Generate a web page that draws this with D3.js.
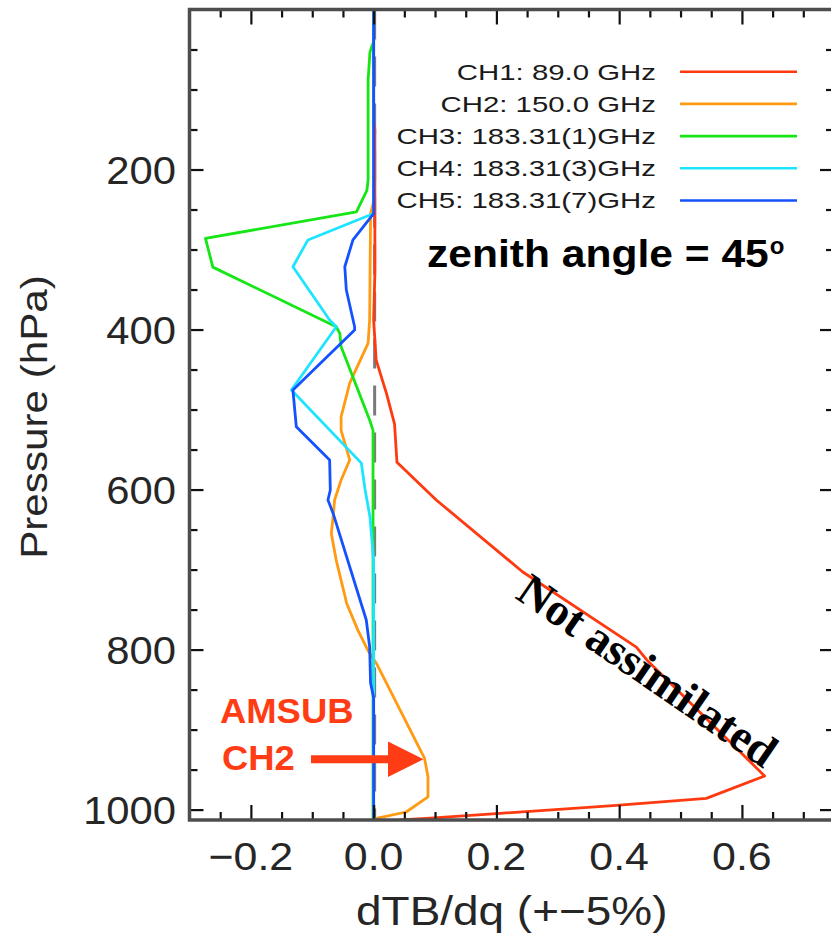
<!DOCTYPE html>
<html>
<head>
<meta charset="utf-8">
<script src="https://cdn.jsdelivr.net/npm/d3@7"></script>
<style>
  body { margin: 0; background: #fff; }
  svg { display: block; }
</style>
</head>
<body>
<svg id="chart" width="831" height="937"></svg>
<script>
// Channel labels for the legend
const channelNames = ["CH1: 89.0 GHz", "CH2: 150.0 GHz", "CH3: 183.31(1)GHz", "CH4: 183.31(3)GHz", "CH5: 183.31(7)GHz"];

// dTB/dq profiles (pressure in hPa, sensitivity values)
const ch1Pressure = [0, 140, 150, 330, 388, 438, 480, 518, 566, 613, 703, 797, 813, 958, 986, 995, 1005, 1011, 1013];
const ch1Values   = [0, 0, 0.002, 0.002, 0, 0.004, 0.021, 0.034, 0.038, 0.102, 0.243, 0.428, 0.445, 0.637, 0.542, 0.39, 0.2, 0.086, 0.042];

const ch2Pressure = [0, 240, 255, 388, 417, 467, 509, 526, 563, 588, 613, 634, 655, 688, 742, 776, 801, 817, 936, 959, 984, 1003, 1011, 1013];
const ch2Values   = [0, 0, -0.005, -0.0065, -0.009, -0.039, -0.053, -0.053, -0.039, -0.053, -0.0636, -0.066, -0.069, -0.061, -0.044, -0.0256, -0.0093, 0.0044, 0.083, 0.0885, 0.0885, 0.053, 0.0044, 0];

const ch3Pressure = [0, 40, 53, 88, 213, 226, 253, 286, 322, 396.5, 405, 421.5, 513, 526, 1013];
const ch3Values   = [0, 0, -0.006, -0.009, -0.009, -0.011, -0.028, -0.274, -0.262, -0.061, -0.055, -0.053, -0.0065, -0.001, -0.001];

const ch4Pressure = [0, 255, 288, 321.5, 388, 396.5, 475.6, 567, 600, 634, 670, 690, 1013];
const ch4Values   = [0, 0, -0.107, -0.1315, -0.0717, -0.0608, -0.134, -0.02, -0.014, -0.006, -0.002, 0, 0];

const ch5Pressure = [0, 255, 288, 321.5, 350.6, 396.5, 400.6, 475.6, 521.5, 563, 600.6, 613, 629.8, 763, 796.5, 842, 860, 1013];
const ch5Values   = [0, 0, -0.0337, -0.047, -0.0445, -0.031, -0.031, -0.1315, -0.126, -0.0717, -0.0706, -0.0744, -0.066, -0.012, -0.0065, -0.005, 0, 0];

// Axis ticks
const xTickValues = [-0.2, 0.0, 0.2, 0.4, 0.6];
const yTickValues = [200, 400, 600, 800, 1000];

const channelPressures = [ch1Pressure, ch2Pressure, ch3Pressure, ch4Pressure, ch5Pressure];
const channelValues = [ch1Values, ch2Values, ch3Values, ch4Values, ch5Values];
const channelColors = ["#ff3a10", "#ff9a12", "#16e616", "#1ee4ff", "#1452ff"];

const svg = d3.select("#chart");
const plotLeft = 189.5, plotRight = 834, plotTop = 9.5, plotBottom = 820;

const x = d3.scaleLinear().domain([-0.3, 0.75]).range([plotLeft, plotRight]);
const y = d3.scaleLinear().domain([0, 1013]).range([plotTop, plotBottom]);

// Stretch a text element horizontally by a factor, keeping its anchor
function stretch(sel, k) {
  sel.each(function () {
    const w = this.getComputedTextLength();
    d3.select(this).attr("textLength", w * k).attr("lengthAdjust", "spacingAndGlyphs");
  });
  return sel;
}

svg.append("defs").append("clipPath").attr("id", "plotClip")
  .append("rect").attr("x", plotLeft).attr("y", plotTop)
  .attr("width", plotRight - plotLeft).attr("height", plotBottom - plotTop);

// Dashed zero reference line
svg.append("line")
  .attr("x1", x(0) + 1).attr("x2", x(0) + 1)
  .attr("y1", plotTop).attr("y2", plotBottom)
  .attr("stroke", "#7a7a7a").attr("stroke-width", 3)
  .attr("stroke-dasharray", "30,17");

// Profiles
const line = d3.line().x(d => x(d[1])).y(d => y(d[0]));
const curves = svg.append("g").attr("clip-path", "url(#plotClip)");
channelPressures.forEach((ps, i) => {
  const pts = ps.map((p, j) => [p, channelValues[i][j]]);
  curves.append("path")
    .datum(pts)
    .attr("d", line)
    .attr("fill", "none")
    .attr("stroke", channelColors[i])
    .attr("stroke-width", 2.8)
    .attr("stroke-linejoin", "round");
});

// Ticks on all four sides (pointing inward)
const xMinor = d3.range(-0.25, 0.75, 0.05).map(v => +v.toFixed(2))
  .filter(v => !xTickValues.some(t => Math.abs(t - v) < 1e-6));
const yMinor = d3.range(50, 1001, 50).filter(v => !yTickValues.includes(v));

function styleAxis(g) {
  g.select(".domain").remove();
  g.selectAll(".tick line").attr("stroke", "#111").attr("stroke-width", 2.2);
  g.selectAll(".tick text").remove();
}

const axes = svg.append("g");
[[d3.axisTop, plotBottom], [d3.axisBottom, plotTop]].forEach(([fn, pos]) => {
  axes.append("g").attr("transform", `translate(0,${pos})`)
    .call(fn(x).tickValues(xTickValues).tickSize(15).tickFormat("")).call(styleAxis);
  axes.append("g").attr("transform", `translate(0,${pos})`)
    .call(fn(x).tickValues(xMinor).tickSize(8).tickFormat("")).call(styleAxis);
});
[[d3.axisRight, plotLeft], [d3.axisLeft, plotRight]].forEach(([fn, pos]) => {
  axes.append("g").attr("transform", `translate(${pos},0)`)
    .call(fn(y).tickValues(yTickValues).tickSize(14).tickFormat("")).call(styleAxis);
  axes.append("g").attr("transform", `translate(${pos},0)`)
    .call(fn(y).tickValues(yMinor).tickSize(8).tickFormat("")).call(styleAxis);
});

// Frame
svg.append("rect")
  .attr("x", plotLeft).attr("y", plotTop)
  .attr("width", plotRight - plotLeft).attr("height", plotBottom - plotTop)
  .attr("fill", "none").attr("stroke", "#4d4d4d").attr("stroke-width", 3.5);

const fmt = d3.format(".1f");
const labelFont = "'Liberation Sans', Arial, Helvetica, sans-serif";
const labelColor = "#262626";

// X tick labels
svg.append("g").selectAll("text").data(xTickValues).join("text")
  .attr("x", d => x(d)).attr("y", 870)
  .attr("text-anchor", "middle")
  .attr("font-family", labelFont).attr("font-size", 39).attr("fill", labelColor)
  .text(d => fmt(d))
  .call(stretch, 1.1);

// Y tick labels
svg.append("g").selectAll("text").data(yTickValues).join("text")
  .attr("x", 176).attr("y", d => y(d)).attr("dy", "0.36em")
  .attr("text-anchor", "end")
  .attr("font-family", labelFont).attr("font-size", 39).attr("fill", labelColor)
  .text(d => d)
  .call(stretch, 1.07);

// Axis titles
svg.append("text")
  .attr("x", (plotLeft + plotRight) / 2).attr("y", 925)
  .attr("text-anchor", "middle")
  .attr("font-family", labelFont).attr("font-size", 41).attr("fill", labelColor)
  .text("dTB/dq (+\u22125%)")
  .call(stretch, 1.12);

svg.append("text")
  .attr("transform", "translate(47,417) rotate(-90)")
  .attr("text-anchor", "middle")
  .attr("font-family", labelFont).attr("font-size", 37).attr("fill", labelColor)
  .text("Pressure (hPa)")
  .call(stretch, 1.14);

// Legend
const legend = svg.append("g");
channelNames.forEach((name, i) => {
  const base = 79.5 + i * 32.2;
  const t = legend.append("text")
    .attr("y", base)
    .attr("font-family", labelFont).attr("font-size", 22).attr("fill", "#1a1a1a")
    .text(name);
  const w = t.node().getComputedTextLength() * 1.335;
  t.attr("x", 656 - w).attr("textLength", w).attr("lengthAdjust", "spacingAndGlyphs");
  legend.append("line")
    .attr("x1", 680).attr("x2", 797)
    .attr("y1", base - 7.8).attr("y2", base - 7.8)
    .attr("stroke", channelColors[i]).attr("stroke-width", 2.6);
});

// Zenith angle note
const zen = svg.append("text")
  .attr("x", 427).attr("y", 266.5)
  .attr("font-family", labelFont).attr("font-weight", "bold").attr("font-size", 38).attr("fill", "#000");
zen.append("tspan").text("zenith angle = 45").call(stretch, 1.12);
zen.append("tspan").attr("font-size", 24).attr("dy", -13).attr("dx", 1).text("o");

// AMSUB CH2 annotation with arrow
const red = "#ff3c14";
svg.append("text").attr("x", 220).attr("y", 723)
  .attr("font-family", labelFont).attr("font-weight", "bold").attr("font-size", 35).attr("fill", red)
  .text("AMSUB").call(stretch, 1.04);
svg.append("text").attr("x", 222).attr("y", 770)
  .attr("font-family", labelFont).attr("font-weight", "bold").attr("font-size", 35).attr("fill", red)
  .text("CH2").call(stretch, 1.04);
svg.append("line").attr("x1", 311).attr("x2", 392).attr("y1", 759.3).attr("y2", 759.3)
  .attr("stroke", red).attr("stroke-width", 8);
svg.append("path").attr("d", "M388,741.5 L423.5,759.3 L388,777 Z").attr("fill", red);

// Rotated note along the CH1 curve
svg.append("text")
  .attr("transform", "translate(648,670) rotate(34.5)")
  .attr("text-anchor", "middle").attr("dy", "0.35em")
  .attr("font-family", "'Liberation Serif', 'Times New Roman', serif")
  .attr("font-weight", "bold").attr("font-size", 46).attr("fill", "#000")
  .text("Not assimilated");
</script>
</body>
</html>
